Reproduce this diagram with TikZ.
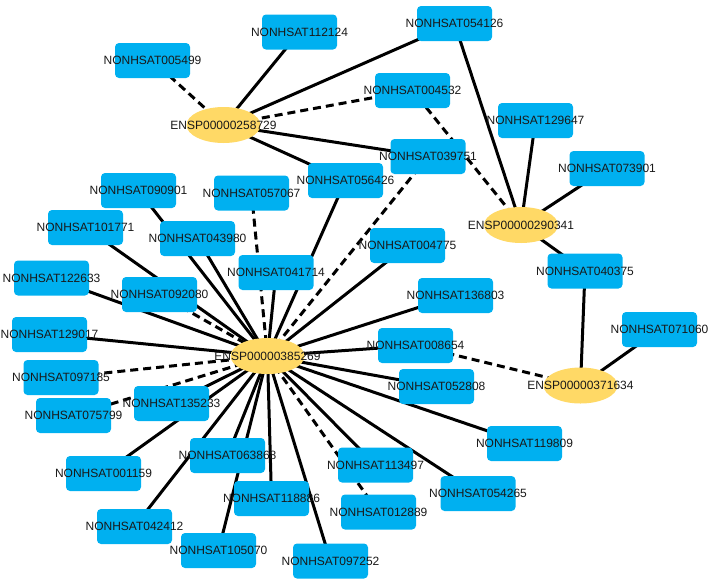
\documentclass[tikz,border=0pt]{standalone}
\usepackage{fontspec}
\setmainfont{Liberation Sans}
\usetikzlibrary{shapes.geometric,backgrounds}
\definecolor{boxblue}{RGB}{0,176,240}
\definecolor{protyellow}{RGB}{255,217,102}
\definecolor{labelgray}{RGB}{25,25,25}
\tikzset{
  lnc/.style={fill=boxblue, rounded corners=4pt, minimum width=75pt, minimum height=35pt, inner sep=0pt, font=\fontsize{12}{14}\selectfont, text=labelgray},
  prot/.style={ellipse, fill=protyellow, minimum width=74pt, minimum height=36pt, inner sep=0pt, font=\fontsize{12}{14}\selectfont, text=labelgray},
  solidedge/.style={line width=3pt, black},
  dashededge/.style={line width=3pt, black, dash pattern=on 8pt off 5pt},
}
\newcommand{\lbl}[1]{\makebox[0pt][c]{#1}}
\begin{document}
\begin{tikzpicture}[x=1pt,y=-1pt]
\useasboundingbox (0,0) rectangle (712,579);
% proteins
\node[prot] (A) at (223.5,125) {\lbl{ENSP00000258729}};
\node[prot] (B) at (521,225) {\lbl{ENSP00000290341}};
\node[prot] (C) at (580.5,385.5) {\lbl{ENSP00000371634}};
\node[prot] (H) at (267.5,356) {\lbl{ENSP00000385269}};
% lncRNAs
\node[lnc] (n112124) at (299.5,32) {\lbl{NONHSAT112124}};
\node[lnc] (n005499) at (152.5,60.5) {\lbl{NONHSAT005499}};
\node[lnc] (n054126) at (454.5,23.5) {\lbl{NONHSAT054126}};
\node[lnc] (n004532) at (412.5,90.5) {\lbl{NONHSAT004532}};
\node[lnc] (n129647) at (535.5,120.5) {\lbl{NONHSAT129647}};
\node[lnc] (n039751) at (428,156.5) {\lbl{NONHSAT039751}};
\node[lnc] (n073901) at (607,168.5) {\lbl{NONHSAT073901}};
\node[lnc] (n056426) at (345.5,180.5) {\lbl{NONHSAT056426}};
\node[lnc] (n090901) at (138.5,190.5) {\lbl{NONHSAT090901}};
\node[lnc] (n057067) at (251.5,193) {\lbl{NONHSAT057067}};
\node[lnc] (n101771) at (85.5,227.5) {\lbl{NONHSAT101771}};
\node[lnc] (n043980) at (197.5,238.5) {\lbl{NONHSAT043980}};
\node[lnc] (n004775) at (407.5,245.5) {\lbl{NONHSAT004775}};
\node[lnc] (n040375) at (585,271) {\lbl{NONHSAT040375}};
\node[lnc] (n041714) at (276,272.5) {\lbl{NONHSAT041714}};
\node[lnc] (n122633) at (51.5,278) {\lbl{NONHSAT122633}};
\node[lnc] (n092080) at (159.5,294.5) {\lbl{NONHSAT092080}};
\node[lnc] (n136803) at (455.5,295.5) {\lbl{NONHSAT136803}};
\node[lnc] (n071060) at (659.5,329.5) {\lbl{NONHSAT071060}};
\node[lnc] (n129017) at (49.5,334.5) {\lbl{NONHSAT129017}};
\node[lnc] (n008654) at (415.5,345.5) {\lbl{NONHSAT008654}};
\node[lnc] (n097185) at (61,377.5) {\lbl{NONHSAT097185}};
\node[lnc] (n052808) at (436.5,386.5) {\lbl{NONHSAT052808}};
\node[lnc] (n135233) at (171.5,403.5) {\lbl{NONHSAT135233}};
\node[lnc] (n075799) at (73.5,415.5) {\lbl{NONHSAT075799}};
\node[lnc] (n119809) at (524.5,443.5) {\lbl{NONHSAT119809}};
\node[lnc] (n063868) at (227.5,455.5) {\lbl{NONHSAT063868}};
\node[lnc] (n113497) at (375.5,465) {\lbl{NONHSAT113497}};
\node[lnc] (n001159) at (103.5,473.5) {\lbl{NONHSAT001159}};
\node[lnc] (n054265) at (478,493.5) {\lbl{NONHSAT054265}};
\node[lnc] (n118886) at (271.5,498.5) {\lbl{NONHSAT118886}};
\node[lnc] (n012889) at (378.5,512) {\lbl{NONHSAT012889}};
\node[lnc] (n042412) at (134.5,526.5) {\lbl{NONHSAT042412}};
\node[lnc] (n105070) at (218.5,550.5) {\lbl{NONHSAT105070}};
\node[lnc] (n097252) at (330.5,561) {\lbl{NONHSAT097252}};
\begin{pgfonlayer}{background}
% ENSP00000258729
\foreach \t in {n112124,n054126,n039751,n056426}
  \draw[solidedge] (A.center) -- (\t.center);
\foreach \t in {n005499,n004532}
  \draw[dashededge] (A.center) -- (\t.center);
% ENSP00000290341
\foreach \t in {n054126,n129647,n073901,n040375}
  \draw[solidedge] (B.center) -- (\t.center);
\draw[dashededge] (B.center) -- (n004532.center);
% ENSP00000371634
\foreach \t in {n040375,n071060}
  \draw[solidedge] (C.center) -- (\t.center);
\draw[dashededge] (C.center) -- (n008654.center);
% ENSP00000385269
\foreach \t in {n090901,n043980,n101771,n122633,n129017,n135233,n001159,n063868,n042412,n105070,n118886,n097252,n113497,n054265,n119809,n052808,n008654,n136803,n004775,n056426,n041714}
  \draw[solidedge] (H.center) -- (\t.center);
\foreach \t in {n092080,n097185,n075799,n012889,n039751,n057067}
  \draw[dashededge] (H.center) -- (\t.center);
\end{pgfonlayer}
\end{tikzpicture}
\end{document}
